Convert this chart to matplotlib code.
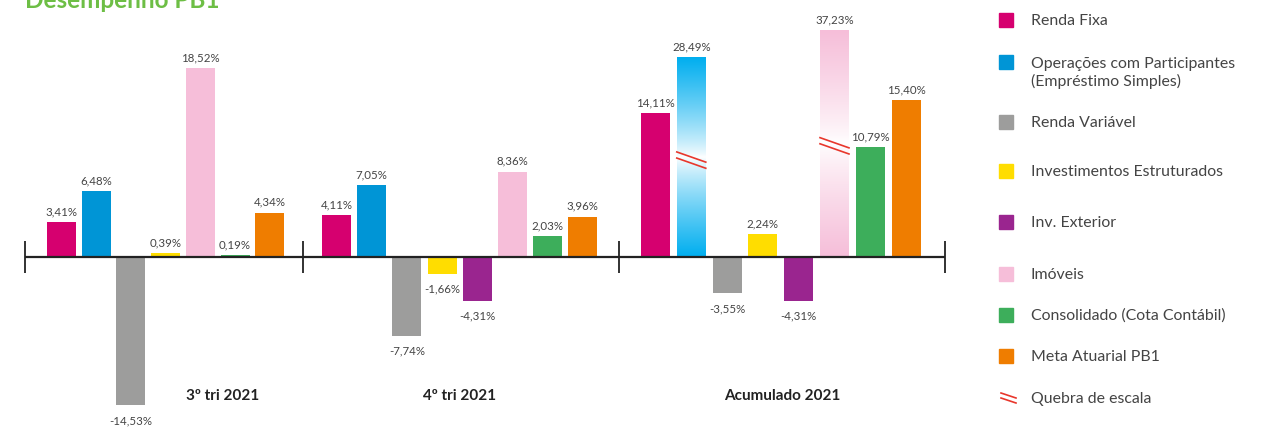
import numpy as np
import matplotlib
matplotlib.use('Agg')
import matplotlib.pyplot as plt
from matplotlib.colors import to_rgb
from matplotlib.patches import Rectangle

plt.rcParams['font.family'] = ['Lato', 'DejaVu Sans']

# Data
categories = ['Renda Fixa', 'Operações com Participantes\n(Empréstimo Simples)', 'Renda Variável',
              'Investimentos Estruturados', 'Inv. Exterior', 'Imóveis',
              'Consolidado (Cota Contábil)', 'Meta Atuarial PB1']
colors = ['#D6006F', '#0095D6', '#9D9D9C', '#FFDD00', '#9A258F', '#F6BED9', '#3DAE5B', '#EF7D00']
periods = ['3º tri 2021', '4º tri 2021', 'Acumulado 2021']
tri3 = [3.41, 6.48, -14.53, 0.39, None, 18.52, 0.19, 4.34]
tri4 = [4.11, 7.05, -7.74, -1.66, -4.31, 8.36, 2.03, 3.96]
acum = [14.11, 28.49, -3.55, 2.24, -4.31, 37.23, 10.79, 15.40]
series = [tri3, tri4, acum]

# bars drawn with a scale break: index -> (drawn height, break position, top colour)
broken = {1: (19.6, 9.8, '#00AEEF'), 5: (22.25, 11.2, '#F6BED9')}

# layout (pixels)
W, H = 1261, 432
group_first = [61.5, 336.5, 655.5]
group_step = [34.7, 35.2, 35.8]
bar_w = 29
axis_x = [25, 303, 619, 945]
label_x = [223, 460, 782]
zero_px = 257
ppu = 10.2  # pixels per percent

fig = plt.figure(figsize=(W / 100, H / 100), dpi=100)
ax = fig.add_axes([0, 0, 1, 1])
ax.set_xlim(0, W)
ax.set_ylim(-(H - zero_px) / ppu, zero_px / ppu)
ax.axis('off')

def fmt(v):
    return f'{v:.2f}'.replace('.', ',') + '%'

for g, vals in enumerate(series):
    slot = 0
    for i, v in enumerate(vals):
        if v is None:
            continue
        x = group_first[g] + slot * group_step[g]
        slot += 1
        h = v
        if g == 2 and i in broken:
            h, brk, c = broken[i]
            top = np.array(to_rgb(c))
            white = np.ones(3)
            ys = np.linspace(0, h, 300)
            t = np.where(ys < brk, 1 - ys / brk, (ys - brk) / (h - brk))
            t = np.clip(t, 0, 1) ** 0.8
            img = white[None, :] * (1 - t[:, None]) + top[None, :] * t[:, None]
            ax.imshow(img[:, None, :], extent=[x - bar_w / 2, x + bar_w / 2, 0, h],
                      origin='lower', aspect='auto', zorder=2, interpolation='bilinear')
            for off in (0, -0.6):
                ax.plot([x - bar_w / 2, x + bar_w / 2], [brk + 0.5 + off, brk - 0.5 + off],
                        color='#E8372C', lw=1.2, zorder=3)
        else:
            ax.bar(x, h, width=bar_w, color=colors[i], zorder=2)
        if v >= 0:
            ax.annotate(fmt(v), (x, h), xytext=(0, 5), textcoords='offset points',
                        ha='center', va='baseline', fontsize=8.3, color='#444444')
        else:
            ax.annotate(fmt(v), (x, h), xytext=(0, -7), textcoords='offset points',
                        ha='center', va='top', fontsize=8.3, color='#444444')
    ax.text(label_x[g], -14.0, periods[g], ha='center', va='baseline',
            fontsize=11, fontweight='bold', color='#222222')

ax.hlines(0, axis_x[0], axis_x[-1], color='#222222', lw=1.6, zorder=4)
ax.vlines(axis_x, -1.6, 1.6, color='#222222', lw=1.3, zorder=4)

fig.text(25 / W, 1 - 7.5 / H, 'Desempenho PB1', ha='left', va='baseline',
         fontsize=17.5, fontweight='bold', color='#6DBE45')

# legend in pixel coordinates
leg = fig.add_axes([0, 0, 1, 1])
leg.set_xlim(0, W)
leg.set_ylim(H, 0)
leg.axis('off')
rows = [20, 62, 122, 171, 222, 274, 315, 356]
for y, c, name in zip(rows, colors, categories):
    leg.add_patch(Rectangle((999, y - 7), 14, 14, color=c))
    n_extra = name.count('\n')
    leg.text(1031, y + 5 + 19 * n_extra, name, ha='left', va='baseline', fontsize=11.4,
             color='#444444', linespacing=1.25)
for off in (0, 5):
    leg.plot([1001, 1016], [393 + off, 398 + off], color='#E8372C', lw=1.2)
leg.text(1031, 403, 'Quebra de escala', ha='left', va='baseline', fontsize=11.4, color='#444444')

fig.savefig('out.png', dpi=100)
